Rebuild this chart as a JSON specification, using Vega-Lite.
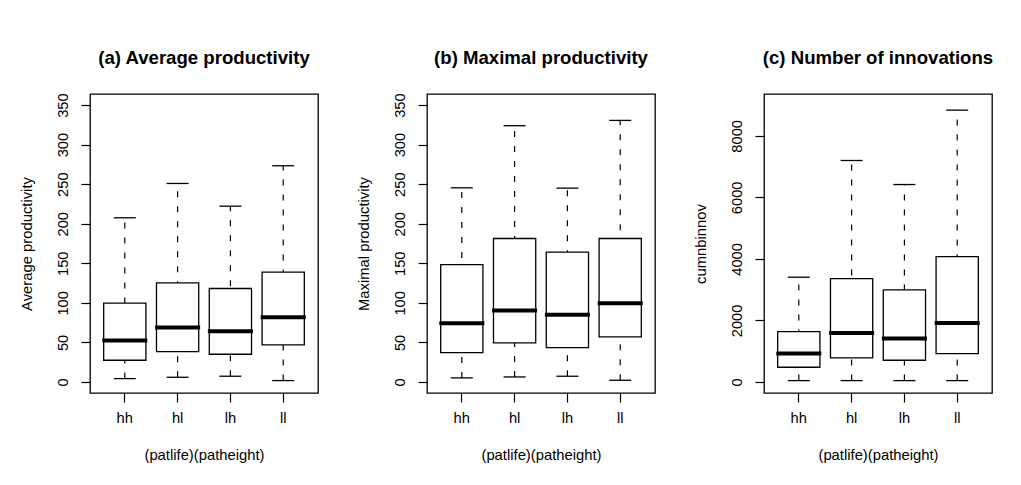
{
  "$schema": "https://vega.github.io/schema/vega-lite/v6.json",
  "background": "white",
  "padding": {"left": 18, "top": 48, "right": 10, "bottom": 10},
  "bounds": "flush",
  "spacing": 109,
  "config": {
    "font": "Liberation Sans",
    "view": {"stroke": "black", "strokeWidth": 1.3},
    "tick": {"opacity": 1},
    "axis": {
      "grid": false,
      "domain": false,
      "tickColor": "black",
      "tickWidth": 1.2,
      "tickSize": 9,
      "labelFont": "Liberation Sans",
      "labelFontSize": 14.7,
      "labelColor": "black",
      "titleFont": "Liberation Sans",
      "titleFontSize": 14.8,
      "titleFontWeight": "normal",
      "titleColor": "black"
    },
    "title": {"font": "Liberation Sans", "fontSize": 18.6, "fontWeight": "bold", "color": "black", "anchor": "middle", "frame": "group", "baseline": "alphabetic", "offset": 26}
  },
  "datasets": {
    "stats": [
      {"panel": "a", "group": "hh", "lower": 4.2, "q1": 27.4, "median": 52.3, "q3": 99.5, "upper": 207.5},
      {"panel": "a", "group": "hl", "lower": 5.9, "q1": 38.4, "median": 68.7, "q3": 125.2, "upper": 250.9},
      {"panel": "a", "group": "lh", "lower": 7.2, "q1": 35.0, "median": 64.1, "q3": 118.1, "upper": 222.2},
      {"panel": "a", "group": "ll", "lower": 1.7, "q1": 46.8, "median": 81.8, "q3": 138.7, "upper": 273.3},
      {"panel": "b", "group": "hh", "lower": 5.1, "q1": 37.1, "median": 74.2, "q3": 148.4, "upper": 245.4},
      {"panel": "b", "group": "hl", "lower": 6.3, "q1": 49.3, "median": 90.2, "q3": 181.3, "upper": 323.9},
      {"panel": "b", "group": "lh", "lower": 7.2, "q1": 43.4, "median": 84.8, "q3": 164.0, "upper": 245.0},
      {"panel": "b", "group": "ll", "lower": 2.1, "q1": 56.9, "median": 99.5, "q3": 181.3, "upper": 330.6},
      {"panel": "c", "group": "hh", "lower": 43, "q1": 477, "median": 921, "q3": 1637, "upper": 3404},
      {"panel": "c", "group": "hl", "lower": 43, "q1": 780, "median": 1593, "q3": 3360, "upper": 7198},
      {"panel": "c", "group": "lh", "lower": 43, "q1": 705, "median": 1409, "q3": 2992, "upper": 6417},
      {"panel": "c", "group": "ll", "lower": 43, "q1": 921, "median": 1919, "q3": 4076, "upper": 8835}
    ]
  },
  "hconcat": [
    {
      "title": {"text": "(a) Average productivity", "offset": 25},
      "width": 228, "height": 299,
      "data": {"name": "stats"},
      "transform": [{"filter": "datum.panel === 'a'"}],
      "encoding": {
        "x": {"field": "group", "type": "nominal", "sort": ["hh", "hl", "lh", "ll"],
          "scale": {"paddingInner": 0.2, "paddingOuter": 0.259},
          "axis": {"title": "(patlife)(patheight)", "labelAngle": 0, "labelBaseline": "alphabetic", "labelPadding": 20, "titleBaseline": "alphabetic", "titlePadding": 35}}
      },
      "layer": [
        {"mark": {"type": "rule", "strokeDash": [6, 9], "strokeWidth": 1.2, "color": "black"},
         "encoding": {"y": {"field": "lower", "type": "quantitative",
            "scale": {"domain": [-14, 364], "nice": false, "zero": false},
            "axis": {"title": "Average productivity", "values": [0, 50, 100, 150, 200, 250, 300, 350], "labelAngle": -90, "labelAlign": "center", "labelBaseline": "alphabetic", "labelPadding": 14, "titlePadding": 21}},
           "y2": {"field": "upper"}}},
        {"mark": {"type": "tick", "color": "black", "thickness": 1.3}, "encoding": {"y": {"field": "upper", "type": "quantitative"}, "size": {"value": 22}}},
        {"mark": {"type": "tick", "color": "black", "thickness": 1.3}, "encoding": {"y": {"field": "lower", "type": "quantitative"}, "size": {"value": 22}}},
        {"mark": {"type": "bar", "fill": "white", "stroke": "black", "strokeWidth": 1.3},
         "encoding": {"y": {"field": "q1", "type": "quantitative"}, "y2": {"field": "q3"}}},
        {"mark": {"type": "tick", "color": "black", "thickness": 4}, "encoding": {"y": {"field": "median", "type": "quantitative"}, "size": {"value": 45}}}
      ]
    },
    {
      "title": {"text": "(b) Maximal productivity", "offset": 25},
      "width": 228, "height": 299,
      "data": {"name": "stats"},
      "transform": [{"filter": "datum.panel === 'b'"}],
      "encoding": {
        "x": {"field": "group", "type": "nominal", "sort": ["hh", "hl", "lh", "ll"],
          "scale": {"paddingInner": 0.2, "paddingOuter": 0.259},
          "axis": {"title": "(patlife)(patheight)", "labelAngle": 0, "labelBaseline": "alphabetic", "labelPadding": 20, "titleBaseline": "alphabetic", "titlePadding": 35}}
      },
      "layer": [
        {"mark": {"type": "rule", "strokeDash": [6, 9], "strokeWidth": 1.2, "color": "black"},
         "encoding": {"y": {"field": "lower", "type": "quantitative",
            "scale": {"domain": [-14, 364], "nice": false, "zero": false},
            "axis": {"title": "Maximal productivity", "values": [0, 50, 100, 150, 200, 250, 300, 350], "labelAngle": -90, "labelAlign": "center", "labelBaseline": "alphabetic", "labelPadding": 14, "titlePadding": 21}},
           "y2": {"field": "upper"}}},
        {"mark": {"type": "tick", "color": "black", "thickness": 1.3}, "encoding": {"y": {"field": "upper", "type": "quantitative"}, "size": {"value": 22}}},
        {"mark": {"type": "tick", "color": "black", "thickness": 1.3}, "encoding": {"y": {"field": "lower", "type": "quantitative"}, "size": {"value": 22}}},
        {"mark": {"type": "bar", "fill": "white", "stroke": "black", "strokeWidth": 1.3},
         "encoding": {"y": {"field": "q1", "type": "quantitative"}, "y2": {"field": "q3"}}},
        {"mark": {"type": "tick", "color": "black", "thickness": 4}, "encoding": {"y": {"field": "median", "type": "quantitative"}, "size": {"value": 45}}}
      ]
    },
    {
      "title": {"text": "(c) Number of innovations", "offset": 26},
      "width": 228, "height": 299,
      "data": {"name": "stats"},
      "transform": [{"filter": "datum.panel === 'c'"}],
      "encoding": {
        "x": {"field": "group", "type": "nominal", "sort": ["hh", "hl", "lh", "ll"],
          "scale": {"paddingInner": 0.2, "paddingOuter": 0.259},
          "axis": {"title": "(patlife)(patheight)", "labelAngle": 0, "labelBaseline": "alphabetic", "labelPadding": 20, "titleBaseline": "alphabetic", "titlePadding": 35}}
      },
      "layer": [
        {"mark": {"type": "rule", "strokeDash": [6, 9], "strokeWidth": 1.2, "color": "black"},
         "encoding": {"y": {"field": "lower", "type": "quantitative",
            "scale": {"domain": [-360, 9360], "nice": false, "zero": false},
            "axis": {"title": "cumnbinnov", "values": [0, 2000, 4000, 6000, 8000], "format": "d", "labelAngle": -90, "labelAlign": "center", "labelBaseline": "alphabetic", "labelPadding": 14, "titlePadding": 21}},
           "y2": {"field": "upper"}}},
        {"mark": {"type": "tick", "color": "black", "thickness": 1.3}, "encoding": {"y": {"field": "upper", "type": "quantitative"}, "size": {"value": 22}}},
        {"mark": {"type": "tick", "color": "black", "thickness": 1.3}, "encoding": {"y": {"field": "lower", "type": "quantitative"}, "size": {"value": 22}}},
        {"mark": {"type": "bar", "fill": "white", "stroke": "black", "strokeWidth": 1.3},
         "encoding": {"y": {"field": "q1", "type": "quantitative"}, "y2": {"field": "q3"}}},
        {"mark": {"type": "tick", "color": "black", "thickness": 4}, "encoding": {"y": {"field": "median", "type": "quantitative"}, "size": {"value": 45}}}
      ]
    }
  ]
}
